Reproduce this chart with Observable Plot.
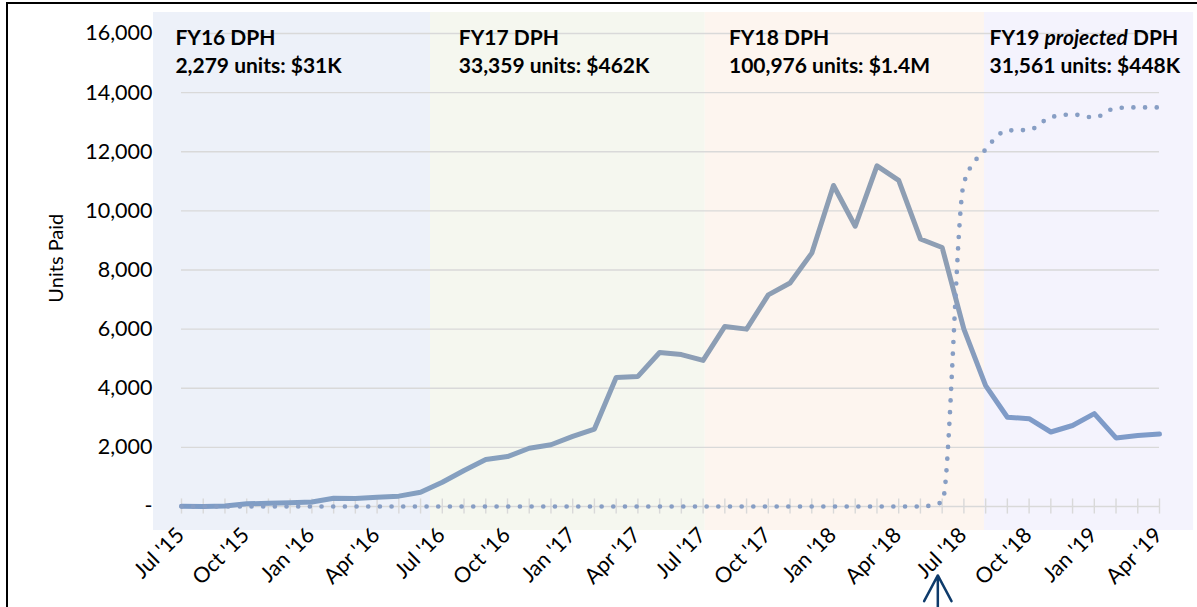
<!DOCTYPE html>
<html><head><meta charset="utf-8">
<script src="https://cdn.jsdelivr.net/npm/d3@7"></script>
<script src="https://cdn.jsdelivr.net/npm/@observablehq/plot@0.6"></script>
<style>
html,body{margin:0;padding:0;background:#fff;overflow:hidden;width:1197px;height:607px}
#chart{position:absolute;left:0;top:0}
#frame{position:absolute;left:6px;top:2px;width:1220px;height:660px;border:2.5px solid #000;box-sizing:border-box;pointer-events:none}
</style></head><body>
<div id="chart"></div><div id="frame"></div>
<script>
const months = ["Jul '15","Aug '15","Sep '15","Oct '15","Nov '15","Dec '15","Jan '16","Feb '16","Mar '16","Apr '16","May '16","Jun '16",
  "Jul '16","Aug '16","Sep '16","Oct '16","Nov '16","Dec '16","Jan '17","Feb '17","Mar '17","Apr '17","May '17","Jun '17",
  "Jul '17","Aug '17","Sep '17","Oct '17","Nov '17","Dec '17","Jan '18","Feb '18","Mar '18","Apr '18","May '18","Jun '18",
  "Jul '18","Aug '18","Sep '18","Oct '18","Nov '18","Dec '18","Jan '19","Feb '19","Mar '19","Apr '19"];
const unitsPaid = [10,0,20,90,110,130,150,280,270,310,350,480,
  820,1220,1590,1690,1970,2090,2370,2620,4365,4400,5210,5140,
  4940,6090,6000,7160,7560,8570,10860,9480,11520,11030,9050,8760,
  6000,4090,3020,2970,2520,2740,3140,2320,2400,2450];
const projectedUnits = [0,0,0,0,0,0,0,0,0,0,0,0,
  0,0,0,0,0,0,0,0,0,0,0,0,
  0,0,0,0,0,0,0,0,0,0,0,150,
  10950,12080,12720,12740,13170,13260,13160,13480,13500,13500];
const yTicks = [0,2000,4000,6000,8000,10000,12000,14000,16000];
const xTickLabels = ["Jul '15","Oct '15","Jan '16","Apr '16","Jul '16","Oct '16","Jan '17","Apr '17",
  "Jul '17","Oct '17","Jan '18","Apr '18","Jul '18","Oct '18","Jan '19","Apr '19"];
const fyNames = ["FY16","FY17","FY18","FY19"];
const fyQualifier = ["","","","projected"];
const fyUnits = ["2,279","33,359","100,976","31,561"];
const fyCost = ["$31K","$462K","$1.4M","$448K"];
const fyStart = [-1.29, 11.46, 24.1, 36.95];   // month index
const fyEnd = [11.46, 24.1, 36.95, 46.57];
const fyLabelAt = [-0.28, 12.76, 25.19, 37.18];
const fyColors = ["#edf1f9","#f5f7ef","#fdf5ef","#f4f3fd"];
const arrowAt = 34.8; // month index of the marker arrow
const yLabel = "Units Paid";

const idx = months.map((m, i) => i);
const fyIdx = fyNames.map((f, i) => i);
const font = "Lato, 'Open Sans', sans-serif";

const plot = Plot.plot({
  width: 1197, height: 680,
  marginLeft: 153, marginRight: 4, marginTop: 12, marginBottom: 150,
  style: {fontFamily: font, background: "transparent", overflow: "visible"},
  x: {domain: [0, months.length - 1], range: [181, 1159], axis: null},
  y: {domain: [0, 16000], range: [506, 33], axis: null},
  marks: [
    Plot.rect(fyIdx, {x1: i => fyStart[i], x2: i => fyEnd[i], fill: i => fyColors[i]}),
    Plot.ruleY(yTicks, {x1: 0, x2: months.length - 1, stroke: "#d9d9d9", strokeWidth: 1.4}),
    Plot.ruleX(idx, {x: d => d, y1: 255, y2: -255, stroke: "#d9d9d9", strokeWidth: 1.4}),
    Plot.axisY(yTicks, {anchor: "left", tickSize: 0, tickPadding: 1, fontSize: 21.5, fill: "#000",
      tickFormat: d => d === 0 ? "-" : d3.format(",")(d)}),
    Plot.text([yLabel], {frameAnchor: "left", y: 8400, dx: -97, rotate: -90, textAnchor: "middle",
      fontSize: 20, fill: "#000", lineAnchor: "middle"}),
    Plot.text(xTickLabels, {x: d => months.indexOf(d), frameAnchor: "bottom", rotate: -45, textAnchor: "end",
      lineAnchor: "bottom", dx: 4, dy: 6, fontSize: 21.5, fill: "#000"}),
    Plot.line(idx, {x: d => d, y: d => unitsPaid[d], stroke: "url(#unitsGrad)", strokeWidth: 5, strokeLinejoin: "round"}),
    Plot.line(idx, {x: d => d, y: d => projectedUnits[d], curve: "monotone-x", stroke: "#879ec4", strokeWidth: 4.7,
      strokeDasharray: "0 11.67", strokeLinecap: "round"}),
    Plot.text(fyIdx, {x: i => fyLabelAt[i], y: 16270, lineAnchor: "top", textAnchor: "start", lineHeight: 1.3333,
      fontSize: 21, fontWeight: "bold", fill: "#000",
      text: i => fyNames[i] + " " + (fyQualifier[i] ? fyQualifier[i] + " " : "") + "DPH\n" + fyUnits[i] + " units: " + fyCost[i]}),
    Plot.arrow([arrowAt], {x1: d => d, x2: d => d, y1: -5800, y2: -2330, stroke: "#0e3b6b", strokeWidth: 2.5,
      headLength: 17.5, headAngle: 56})
  ]
});

// gradient for the solid line
const xs = plot.scale("x");
const ns = "http://www.w3.org/2000/svg";
const defs = document.createElementNS(ns, "defs");
const lg = document.createElementNS(ns, "linearGradient");
lg.setAttribute("id", "unitsGrad");
lg.setAttribute("gradientUnits", "userSpaceOnUse");
lg.setAttribute("x1", xs.apply(0)); lg.setAttribute("x2", xs.apply(months.length - 1));
lg.setAttribute("y1", 0); lg.setAttribute("y2", 0);
[[0, "#7e9cc6"], [0.3, "#86a0bf"], [0.55, "#8d9eb4"], [0.78, "#8e9eb3"], [0.84, "#7f9bc8"], [1, "#7e9bc9"]].forEach(([o, c]) => {
  const s = document.createElementNS(ns, "stop");
  s.setAttribute("offset", o); s.setAttribute("stop-color", c);
  lg.appendChild(s);
});
defs.appendChild(lg);
plot.insertBefore(defs, plot.firstChild);

// italic qualifier
plot.querySelectorAll("tspan, text").forEach(el => {
  if (el.childNodes.length === 1 && el.childNodes[0].nodeType === 3) {
    const t = el.textContent;
    fyQualifier.forEach(q => {
      if (q && t.includes(" " + q + " ")) {
        const [a, b] = t.split(q);
        el.textContent = "";
        el.appendChild(document.createTextNode(a));
        const it = document.createElementNS(ns, "tspan");
        it.setAttribute("font-style", "italic");
        it.textContent = q;
        el.appendChild(it);
        el.appendChild(document.createTextNode(b));
      }
    });
  }
});

document.getElementById("chart").appendChild(plot);
</script>
</body></html>
